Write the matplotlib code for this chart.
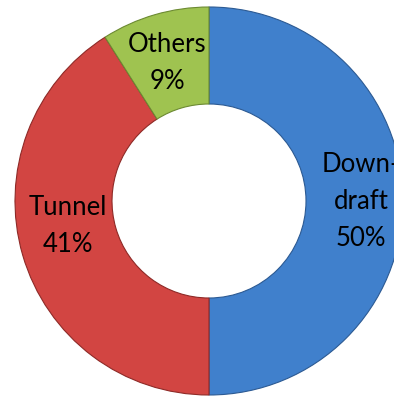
import matplotlib.pyplot as plt

plt.rcParams['font.family'] = ['Lato', 'DejaVu Sans']

# data
categories = ['Down-\ndraft', 'Tunnel', 'Others']
shares = [50, 41, 9]
colors = ['#4080cc', '#d24542', '#9fc350']
edge_colors = ['#2c5a93', '#8e2a27', '#6c8a32']

fig = plt.figure(figsize=(3.94, 3.98), dpi=100)
ax = fig.add_axes([0, 0, 1, 1])
ax.axis('off')

wedges, _ = ax.pie(shares, colors=colors, startangle=90, counterclock=False,
                   radius=1.0,
                   wedgeprops=dict(width=0.5, linewidth=0.8))

for w, ec in zip(wedges, edge_colors):
    w.set_edgecolor(ec)

ax.set_xlim(-209 / 194, 185 / 194)
ax.set_ylim(-197 / 194, 201 / 194)

# label positions (axes data coords)
label_pos = [(0.785, -0.005), (-0.727, -0.13), (-0.216, 0.71)]
for cat, val, (x, y) in zip(categories, shares, label_pos):
    ax.text(x, y, f'{cat}\n{val}%', ha='center', va='center',
            fontsize=18.5, color='black', linespacing=1.6)

fig.savefig('out.png', dpi=100, facecolor='white')
